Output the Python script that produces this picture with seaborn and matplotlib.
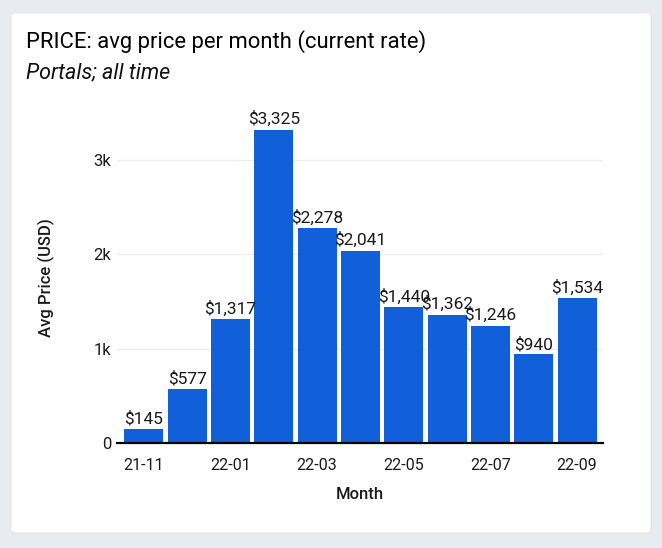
import numpy as np
import pandas as pd
import seaborn as sns
import matplotlib.pyplot as plt
from matplotlib.patches import FancyBboxPatch

months = ['21-11', '21-12', '22-01', '22-02', '22-03', '22-04',
          '22-05', '22-06', '22-07', '22-08', '22-09']
avg_price = [145, 577, 1317, 3325, 2278, 2041, 1440, 1362, 1246, 940, 1534]
y_ticks = [0, 1000, 2000, 3000]
y_tick_labels = ['0', '1k', '2k', '3k']

df = pd.DataFrame({'Month': months, 'Price': avg_price})

sns.set_style('white')
plt.rcParams['font.family'] = ['Roboto', 'DejaVu Sans']

fig = plt.figure(figsize=(6.62, 5.48), dpi=100)
fig.patch.set_facecolor('#e8ebef')

# card background
shadow = FancyBboxPatch((12 / 662, 14 / 548), 640 / 662, 520 / 548,
                        boxstyle='round,pad=0,rounding_size=0.006',
                        transform=fig.transFigure, facecolor='#dde1e7',
                        edgecolor='none', zorder=-10)
card = FancyBboxPatch((11 / 662, 15 / 548), 640 / 662, 520 / 548,
                      boxstyle='round,pad=0,rounding_size=0.006',
                      transform=fig.transFigure, facecolor='white',
                      edgecolor='#e2e5ea', linewidth=0.6, zorder=-9)
fig.patches.extend([shadow, card])

ax = fig.add_axes([117 / 662, 1 - 443 / 548, (603 - 117) / 662, 330 / 548])
ax.set_facecolor('none')
ax.set_zorder(2)

sns.barplot(data=df, x='Month', y='Price', color='#1160d9', width=0.9,
            saturation=1, edgecolor='white', linewidth=0, ax=ax)

for i, v in enumerate(avg_price):
    ax.text(i, v + 25, f'${v:,}', ha='center', va='bottom',
            fontsize=12.5, color='#1a1a1a')

ax.set_ylim(0, 3500)
ax.set_xlim(-0.62, 10.6)
ax.set_yticks(y_ticks)
ax.set_yticklabels(y_tick_labels)
ax.set_xticks(range(0, len(months), 2))
ax.set_xticklabels(months[::2])
ax.tick_params(axis='both', length=0, colors='#1a1a1a')
ax.tick_params(axis='x', pad=11, labelsize=11.5)
ax.tick_params(axis='y', pad=4, labelsize=12)
ax.yaxis.grid(True, color='#ececec', linewidth=0.9)
ax.set_axisbelow(True)

for s in ['top', 'right', 'left']:
    ax.spines[s].set_visible(False)
ax.spines['bottom'].set_color('black')
ax.spines['bottom'].set_linewidth(1.6)
ax.spines['bottom'].set_zorder(5)

ax.set_xlabel('Month', fontsize=12, fontweight='medium', labelpad=10,
              color='#1a1a1a')
ax.set_ylabel('Avg Price (USD)', fontsize=12, fontweight='medium',
              labelpad=28, color='#1a1a1a')

fig.text(26 / 662, 1 - 42 / 548, 'PRICE: avg price per month (current rate)',
         fontsize=15.8, va='center', ha='left', color='#000000')
fig.text(26 / 662, 1 - 73 / 548, 'Portals; all time', fontsize=15.5,
         style='italic', va='center', ha='left', color='#111111')

plt.savefig('out.png', dpi=100, facecolor=fig.get_facecolor())
